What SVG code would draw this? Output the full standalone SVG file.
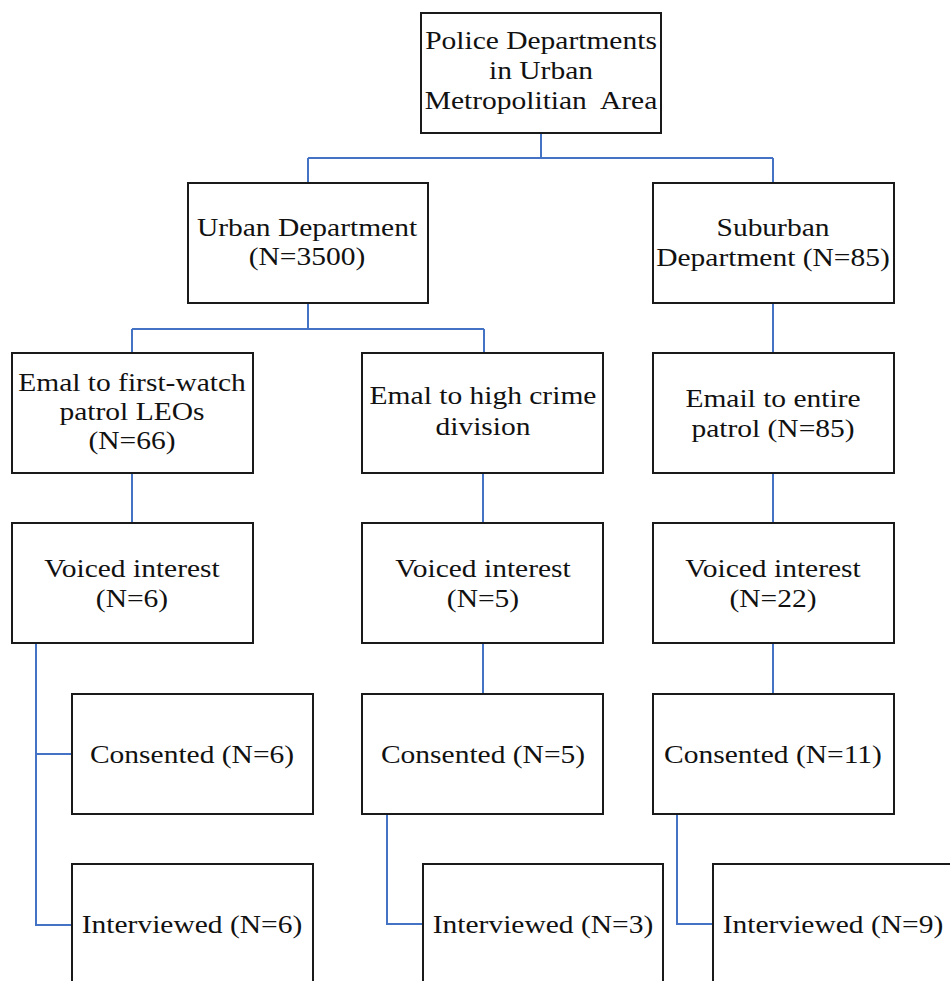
<svg xmlns="http://www.w3.org/2000/svg" width="950" height="981" viewBox="0 0 950 981">
<style>
.box{fill:#fff;stroke:#1a1a1a;stroke-width:2}
.t{font-family:"Liberation Serif","Times New Roman",serif;font-size:25px;fill:#111;text-anchor:middle}
.c{fill:none;stroke:#4472C4;stroke-width:2}
</style>
<rect width="950" height="981" fill="#fff"/>
<g id="connectors">
<path class="c" d="M541 133V158M308 158H773M308 158V183M773 158V183"/>
<path class="c" d="M308 303V329M132 329H484M132 329V353M484 329V353"/>
<path class="c" d="M773 303V353"/>
<path class="c" d="M132 473V523M483 473V523M773 473V523"/>
<path class="c" d="M36 643V925H72M36 754H72"/>
<path class="c" d="M483 643V694M773 643V694"/>
<path class="c" d="M387 814V924H423M677 814V924H713"/>
</g>
<g id="police-departments">
<rect class="box" x="421" y="13" width="240" height="120"/>
<text class="t" transform="translate(541,0) scale(1.18,1)"><tspan x="0" y="49">Police Departments</tspan><tspan x="0" y="79">in Urban</tspan><tspan x="0" y="109">Metropolitian&#160; Area</tspan></text>
</g>
<g id="urban-department">
<rect class="box" x="188" y="183" width="240" height="120"/>
<text class="t" transform="translate(307,0) scale(1.18,1)"><tspan x="0" y="236">Urban Department</tspan><tspan x="0" y="265">(N=3500)</tspan></text>
</g>
<g id="suburban-department">
<rect class="box" x="653" y="183" width="241" height="120"/>
<text class="t" transform="translate(773,0) scale(1.18,1)"><tspan x="0" y="236">Suburban</tspan><tspan x="0" y="266">Department (N=85)</tspan></text>
</g>
<g id="email-first-watch">
<rect class="box" x="12" y="353" width="241" height="120"/>
<text class="t" transform="translate(132,0) scale(1.18,1)"><tspan x="0" y="391">Emal to first-watch</tspan><tspan x="0" y="420">patrol LEOs</tspan><tspan x="0" y="449">(N=66)</tspan></text>
</g>
<g id="email-high-crime">
<rect class="box" x="362" y="353" width="241" height="120"/>
<text class="t" transform="translate(483,0) scale(1.18,1)"><tspan x="0" y="404">Emal to high crime</tspan><tspan x="0" y="435">division</tspan></text>
</g>
<g id="email-entire-patrol">
<rect class="box" x="653" y="353" width="241" height="120"/>
<text class="t" transform="translate(773,0) scale(1.18,1)"><tspan x="0" y="407">Email to entire</tspan><tspan x="0" y="437">patrol (N=85)</tspan></text>
</g>
<g id="voiced-1">
<rect class="box" x="12" y="523" width="241" height="120"/>
<text class="t" transform="translate(132,0) scale(1.18,1)"><tspan x="0" y="577">Voiced interest</tspan><tspan x="0" y="607">(N=6)</tspan></text>
</g>
<g id="voiced-2">
<rect class="box" x="362" y="523" width="241" height="120"/>
<text class="t" transform="translate(483,0) scale(1.18,1)"><tspan x="0" y="577">Voiced interest</tspan><tspan x="0" y="607">(N=5)</tspan></text>
</g>
<g id="voiced-3">
<rect class="box" x="653" y="523" width="241" height="120"/>
<text class="t" transform="translate(773,0) scale(1.18,1)"><tspan x="0" y="577">Voiced interest</tspan><tspan x="0" y="607">(N=22)</tspan></text>
</g>
<g id="consented-1">
<rect class="box" x="72" y="694" width="241" height="120"/>
<text class="t" transform="translate(192,0) scale(1.18,1)"><tspan x="0" y="763">Consented (N=6)</tspan></text>
</g>
<g id="consented-2">
<rect class="box" x="362" y="694" width="241" height="120"/>
<text class="t" transform="translate(483,0) scale(1.18,1)"><tspan x="0" y="763">Consented (N=5)</tspan></text>
</g>
<g id="consented-3">
<rect class="box" x="653" y="694" width="241" height="120"/>
<text class="t" transform="translate(773,0) scale(1.18,1)"><tspan x="0" y="763">Consented (N=11)</tspan></text>
</g>
<g id="interviewed-1">
<rect class="box" x="72" y="864" width="241" height="130"/>
<text class="t" transform="translate(192,0) scale(1.18,1)"><tspan x="0" y="933">Interviewed (N=6)</tspan></text>
</g>
<g id="interviewed-2">
<rect class="box" x="423" y="864" width="240" height="130"/>
<text class="t" transform="translate(543,0) scale(1.18,1)"><tspan x="0" y="933">Interviewed (N=3)</tspan></text>
</g>
<g id="interviewed-3">
<rect class="box" x="713" y="864" width="240" height="130"/>
<text class="t" transform="translate(833,0) scale(1.18,1)"><tspan x="0" y="933">Interviewed (N=9)</tspan></text>
</g>
</svg>
